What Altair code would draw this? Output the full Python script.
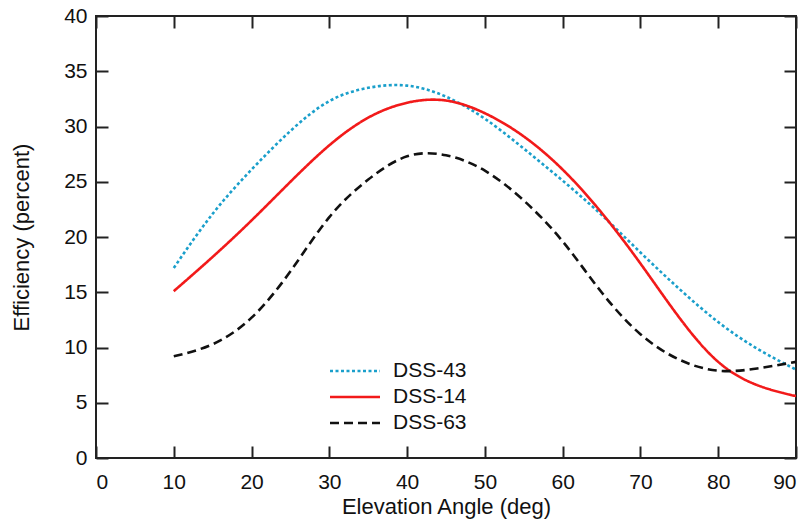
import altair as alt
import pandas as pd

# --- data ---
angles = [10, 15, 20, 25, 30, 35, 40, 45, 50, 55, 60, 65, 70, 75, 80, 85, 90]
dss43 = [17.2, 22.1, 26.1, 29.6, 32.3, 33.5, 33.7, 32.7, 30.7, 28.0, 25.1, 22.0, 18.6, 15.3, 12.3, 9.9, 8.0]
dss14 = [15.1, 18.2, 21.5, 25.0, 28.3, 30.8, 32.15, 32.35, 31.2, 29.1, 26.1, 22.2, 17.6, 12.7, 8.7, 6.6, 5.6]
dss63 = [9.2, 10.3, 12.7, 16.9, 21.8, 25.2, 27.3, 27.4, 26.0, 23.3, 19.6, 15.0, 11.2, 8.9, 7.9, 8.1, 8.7]

series_names = ["DSS-43", "DSS-14", "DSS-63"]
series_colors = ["#1A9FCB", "#F21A1A", "#111111"]
series_dashes = [[3, 2.5], [1, 0], [9, 5]]

x_ticks = [0, 10, 20, 30, 40, 50, 60, 70, 80, 90]
y_ticks = [0, 5, 10, 15, 20, 25, 30, 35, 40]

rows = []
for name, ys in zip(series_names, [dss43, dss14, dss63]):
    for a, b in zip(angles, ys):
        rows.append({"angle": a, "eff": b, "series": name})
df = pd.DataFrame(rows)

W, H = 700, 442
FONT = "Liberation Sans"
TICK = 12

xscale = alt.Scale(domain=[0, 90], nice=False, zero=False)
yscale = alt.Scale(domain=[0, 40], nice=False, zero=False)

tick_style = dict(ticks=True, tickSize=TICK, tickWidth=2, tickColor="#222", tickOpacity=1,
                  offset=-TICK, domain=False)

lines = alt.Chart(df).mark_line(strokeWidth=2.6, interpolate="natural", clip=True).encode(
    x=alt.X("angle:Q", scale=xscale, title="Elevation Angle (deg)",
            axis=alt.Axis(values=x_ticks, labelPadding=13, titlePadding=4, **tick_style)),
    y=alt.Y("eff:Q", scale=yscale, title="Efficiency (percent)",
            axis=alt.Axis(values=y_ticks, labelPadding=9, titlePadding=30, **tick_style)),
    color=alt.Color("series:N", scale=alt.Scale(domain=series_names, range=series_colors),
                    title=None,
                    legend=alt.Legend(orient="none", legendX=245, legendY=341,
                                      symbolType="M-2,0H2", symbolSize=625,
                                      symbolStrokeWidth=2.6, labelFontSize=21,
                                      labelFont=FONT, labelColor="#111",
                                      rowPadding=2, labelOffset=24)),
    strokeDash=alt.StrokeDash("series:N", scale=alt.Scale(domain=series_names, range=series_dashes),
                              title=None),
)

# mirrored inward ticks on the top and right edges
mirror = alt.Chart(df).mark_line(opacity=0).encode(
    x=alt.X("angle:Q", scale=xscale, title=None,
            axis=alt.Axis(orient="top", values=x_ticks, labels=False, **tick_style)),
    y=alt.Y("eff:Q", scale=yscale, title=None,
            axis=alt.Axis(orient="right", values=y_ticks, labels=False, **tick_style)),
    detail="series:N",
)

chart = alt.layer(lines, mirror).resolve_axis(x="independent", y="independent").properties(
    width=W, height=H,
    autosize=alt.AutoSizeParams(type="none"),
    padding={"left": 88, "top": 8, "right": 3, "bottom": 63},
    background="white",
).configure_view(
    stroke="#222", strokeWidth=2
).configure_axis(
    grid=False,
    labelFont=FONT, labelFontSize=21, labelColor="#111",
    titleFont=FONT, titleFontSize=22, titleColor="#111", titleFontWeight="normal",
)

chart.save("out.html", embed_options={"renderer": "svg", "actions": False})
